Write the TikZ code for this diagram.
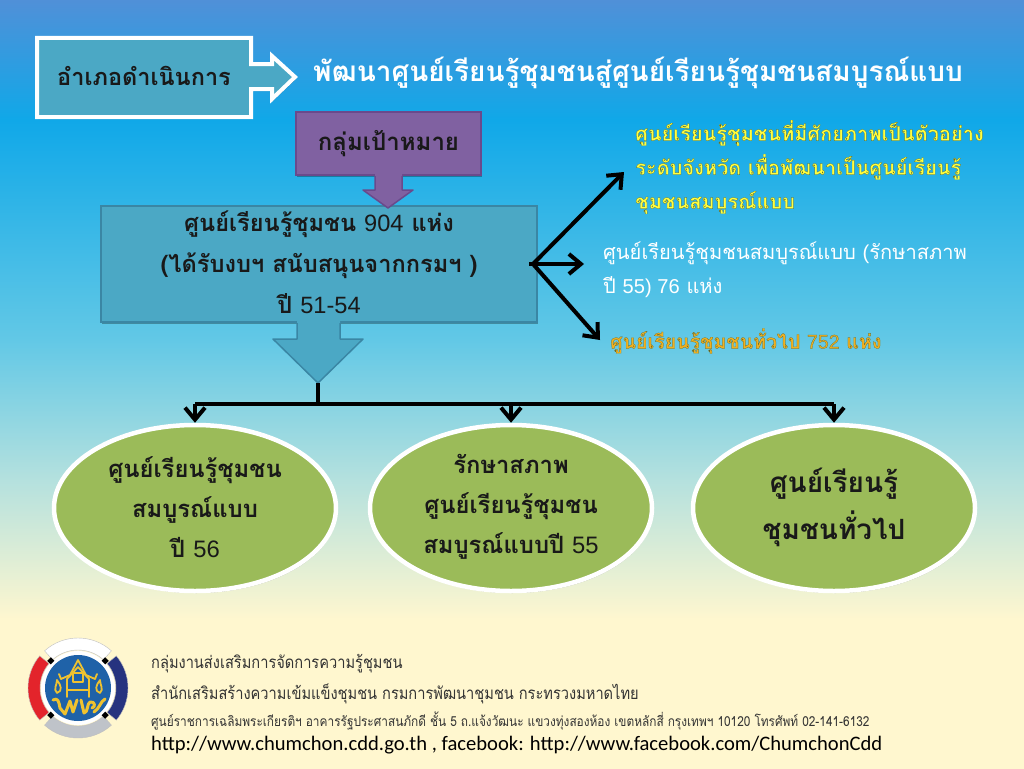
\documentclass[tikz,border=0pt]{standalone}
\usepackage{fontspec}
\usetikzlibrary{arrows.meta,shadows,calc,shapes.geometric}
\newfontfamily\thai[Script=Thai]{Loma}
\newfontfamily\thain[Script=Thai,FakeStretch=0.86]{Loma}
\newfontfamily\lat{Liberation Sans}
\newfontfamily\carl{Carlito}
\newcommand{\dg}[1]{{\lat\mdseries #1}}
\newcommand{\edgeon}{\special{pdf:code 2 Tr 0.18 w 0.35 0.38 0.15 RG}}
\definecolor{tealfill}{HTML}{4BA8C5}
\definecolor{tealedge}{HTML}{3A86A4}
\definecolor{purp}{HTML}{8061A1}
\definecolor{purpedge}{HTML}{6A4A8C}
\definecolor{grn}{HTML}{9BBB59}
\definecolor{logoblue}{HTML}{1F62A8}
\definecolor{logogold}{HTML}{EFC22F}
\definecolor{logonavy}{HTML}{26337F}
\definecolor{logored}{HTML}{E3242B}
\definecolor{logogray}{HTML}{BFC3C9}
\definecolor{bgA}{HTML}{FFF7CF}
\definecolor{bgB}{HTML}{B5E1DE}
\definecolor{bgC}{HTML}{62C8E6}
\definecolor{bgD}{HTML}{10A8E8}
\definecolor{bgE}{HTML}{5090D8}
\pgfdeclareverticalshading{bgshade}{100bp}{
 color(0bp)=(bgA);
 color(34.6bp)=(bgA);
 color(43.7bp)=(bgB);
 color(52.9bp)=(bgC);
 color(67.2bp)=(bgD);
 color(75bp)=(bgE);
 color(100bp)=(bgE)}
\tikzset{
 px/.style={x=1pt,y=-1pt},
 shad/.style={drop shadow={shadow xshift=1pt,shadow yshift=-2pt,opacity=.3,fill=black}},
 topbox/.style={draw=white,line width=4pt,fill=tealfill,line join=miter},
 purplebox/.style={draw=purpedge,line width=2pt,fill=purp},
 bluebox/.style={draw=tealedge,line width=2pt,fill=tealfill},
 oval/.style={draw=white,line width=4.5pt,fill=grn,shad},
 conn/.style={draw=black,line width=4pt,-{Straight Barb[length=12pt,width=20pt,line width=4pt]}},
 trunk/.style={draw=black,line width=4.5pt},
 dark/.style={text=black!90,align=center},
 lbl/.style={align=left,anchor=west,inner sep=0pt},
 foot/.style={anchor=west,inner sep=0pt,text=black!80},
}
\begin{document}
\begin{tikzpicture}[px]
\useasboundingbox (0,0) rectangle (1024,768);
\shade[shading=bgshade] (0,0) rectangle (1024,768);
% Top
\path[topbox,shad] (37,38) -- (251,38) -- (251,64) -- (272,64) -- (272,56) -- (295,77) -- (272,99) -- (272,89) -- (251,89) -- (251,117) -- (37,117) -- cycle;
\node[dark,font=\thai\bfseries\fontsize{23.5}{27}\selectfont] (process) at (144,76) {อำเภอดำเนินการ};
\node[text=white,font=\thai\bfseries\fontsize{27.9}{32}\selectfont,anchor=west,inner sep=0pt] (title) at (313,73) {พัฒนาศูนย์เรียนรู้ชุมชนสู่ศูนย์เรียนรู้ชุมชนสมบูรณ์แบบ};
% purple
\node[purplebox,minimum width=185pt,minimum height=63pt,inner sep=0pt,dark,shad,font=\thai\bfseries\fontsize{24}{27}\selectfont] (target) at (388.5,143.5) {กลุ่มเป้าหมาย};
% central
\node[bluebox,minimum width=436pt,minimum height=116pt,inner sep=0pt,shad] (center) at (319,264) {};
\fill[purp] (375,174) -- (375,190) -- (363,190) -- (388,208) -- (413,190) -- (402,190) -- (402,174) -- cycle;
\draw[purpedge,line width=1.5pt,line join=round] (375,176) -- (375,190) -- (363,190) -- (388,208) -- (413,190) -- (402,190) -- (402,176);
\fill[tealfill] (297,321) -- (297,339) -- (273,339) -- (318,383) -- (363,339) -- (340,339) -- (340,321) -- cycle;
\draw[tealedge,line width=1.5pt,line join=round] (297,323) -- (297,339) -- (273,339) -- (318,383) -- (363,339) -- (340,339) -- (340,323);
\node[dark,font=\thai\bfseries\fontsize{23.6}{41}\selectfont] (centertext) at (319,262) {ศูนย์เรียนรู้ชุมชน \dg{904} แห่ง\\(ได้รับงบฯ สนับสนุนจากกรมฯ )\\ปี \dg{51-54}};
% right texts
\node[lbl,text={rgb,255:red,255;green,255;blue,64},font=\thai\bfseries\fontsize{20}{34}\selectfont] (t1) at (635,167) {\edgeon ศูนย์เรียนรู้ชุมชนที่มีศักยภาพเป็นตัวอย่าง\\ระดับจังหวัด เพื่อพัฒนาเป็นศูนย์เรียนรู้\\ชุมชนสมบูรณ์แบบ};
\node[lbl,text=white,font=\thai\fontsize{20.1}{34}\selectfont] (t2) at (603,270) {ศูนย์เรียนรู้ชุมชนสมบูรณ์แบบ {\lat (}รักษาสภาพ\\ปี {\lat 55) 76} แห่ง};
\node[lbl,text={rgb,255:red,240;green,176;blue,32},font=\thai\bfseries\fontsize{19.6}{24}\selectfont] (t3) at (610,341) {\edgeon ศูนย์เรียนรู้ชุมชนทั่วไป \dg{752} แห่ง};
\coordinate (hub) at (533,264);
\coordinate (tip1) at (624,172);
\coordinate (tip2) at (584,264);
\coordinate (tip3) at (600,340);
\draw[conn] (hub) -- (tip1);
\draw[conn] (center.east) ++(-9,0) -- (tip2);
\draw[conn] (hub) -- (tip3);
% ovals
\node[oval,ellipse,minimum width=282pt,minimum height=166pt,inner sep=0pt] (e1) at (195,508) {};
\node[oval,ellipse,minimum width=282pt,minimum height=166pt,inner sep=0pt] (e2) at (511,508) {};
\node[oval,ellipse,minimum width=282pt,minimum height=166pt,inner sep=0pt] (e3) at (834,508) {};
\node[dark,font=\thai\bfseries\fontsize{23.8}{40}\selectfont] (e1t) at (195,507) {ศูนย์เรียนรู้ชุมชน\\สมบูรณ์แบบ\\ปี \dg{56}};
\node[dark,font=\thai\bfseries\fontsize{23.8}{40}\selectfont] (e2t) at (511,507) {รักษาสภาพ\\ศูนย์เรียนรู้ชุมชน\\สมบูรณ์แบบปี \dg{55}};
\node[dark,font=\thai\bfseries\fontsize{27.9}{47}\selectfont] (e3t) at (834,507) {ศูนย์เรียนรู้\\ชุมชนทั่วไป};
% tree
\coordinate (arrowtip) at (318,383);
\coordinate (branch) at (318,404);
\draw[trunk] (arrowtip) -- (branch);
\draw[trunk] (e1.north |- branch) -- (e3.north |- branch);
\draw[conn] (e1.north |- branch) -- (e1.north);
\draw[conn] (e2.north |- branch) -- (e2.north);
\draw[conn] (e3.north |- branch) -- (e3.north);
% footer
\node[foot,font=\thain\fontsize{17}{20}\selectfont] (f1) at (151,664) {กลุ่มงานส่งเสริมการจัดการความรู้ชุมชน};
\node[foot,font=\thain\fontsize{17}{20}\selectfont] (f2) at (151,694) {สำนักเสริมสร้างความเข้มแข็งชุมชน กรมการพัฒนาชุมชน กระทรวงมหาดไทย};
\node[foot,font=\thain\fontsize{13.8}{16}\selectfont] (f3) at (151,721) {ศูนย์ราชการเฉลิมพระเกียรติฯ อาคารรัฐประศาสนภักดี ชั้น 5 ถ.แจ้งวัฒนะ แขวงทุ่งสองห้อง เขตหลักสี่ กรุงเทพฯ 10120 โทรศัพท์ 02-141-6132};
\node[foot,text=black,font=\carl\fontsize{20.6}{24}\selectfont] (f4) at (151,745) {http://www.chumchon.cdd.go.th , facebook: http://www.facebook.com/ChumchonCdd};
% logo
\begin{scope}[shift={(78pt,-688pt)},x=1pt,y=1pt]
\fill[white] (0,0) circle (37);
\foreach \c/\a/\b in {white/132/48,logonavy/40/-40,logogray/-48/-132,logored/220/140}{
 \fill[\c,draw=black!25,line width=.4pt] (\a:50) arc[start angle=\a,end angle=\b,radius=50] -- (\b:38) arc[start angle=\b,end angle=\a,radius=38] -- cycle;}
\foreach \a in {45,135,225,315}{\fill[black,rotate=\a] (36,-2.5) rectangle (41,2.5);}
\fill[logoblue] (0,0) circle (33);
\begin{scope}[draw=logogold,line width=1.8pt,line join=round,line cap=round]
\draw (0,28) -- (-8,13) -- (-17,9) -- (-19,14) (0,28) -- (8,13) -- (17,9) -- (19,14);
\draw (0,21) -- (-11,9) -- (-11,-9) (0,21) -- (11,9) -- (11,-9) (-11,-2) -- (11,-2);
\draw (-5,15) rectangle (5,6);
\draw (-21,-5) .. controls (-25,-1) and (-21,3) .. (-21,8) .. controls (-17,3) and (-15,-3) .. (-21,-5);
\draw (22,-5) .. controls (26,-1) and (22,3) .. (22,8) .. controls (18,3) and (16,-3) .. (22,-5);
\draw[line width=3pt] (-25,-12) .. controls (-20,-9) and (-19,-14) .. (-18,-20) -- (-13,-26) -- (-8,-13) -- (-5,-24) -- (-1,-12);
\draw[line width=3pt] (3,-12) -- (6,-25) .. controls (10,-25) and (9,-15) .. (12,-14) .. controls (17,-13) and (18,-19) .. (14,-20) (16,-24) .. controls (22,-20) and (22,-14) .. (27,-11);
\end{scope}
\end{scope}
\end{tikzpicture}
\end{document}
